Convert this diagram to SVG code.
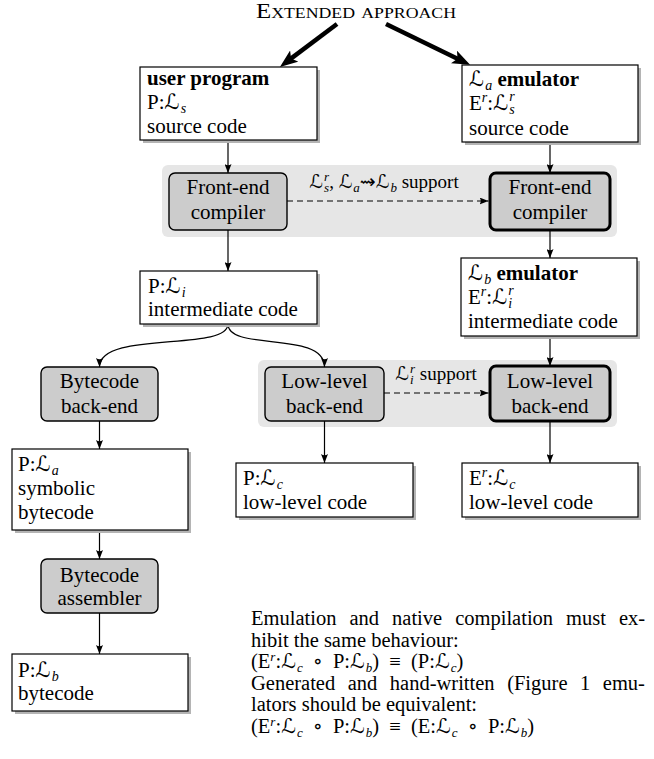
<svg xmlns="http://www.w3.org/2000/svg" width="654" height="759" viewBox="0 0 654 759">
<style>
.box{fill:#fff;stroke:#000;stroke-width:1.2}
.sh{fill:#b4b4b4}
.proc{fill:#cccccc;stroke:#000;stroke-width:1.4}
.thick{stroke-width:3}
.bg{fill:#e6e6e6}
.t{font-family:"Liberation Serif","DejaVu Serif",serif;font-size:21px;fill:#000}
.p{font-size:20.5px}
.lab{font-size:19px}
.c{text-anchor:middle}
.b{font-weight:bold}
.L{font-family:"DejaVu Sans","DejaVu Serif",serif;font-style:normal;font-weight:normal}
.s{font-size:14px;font-style:italic;font-weight:normal}
.ss{font-size:13px;font-style:italic;font-weight:normal}
.conn line,.conn path{fill:none;stroke:#000;stroke-width:1.2}
.conn .d{stroke-dasharray:6 4}
.conn .th{stroke-width:4.5}
</style>
<defs>
<marker id="ah" markerUnits="userSpaceOnUse" markerWidth="9" markerHeight="7" viewBox="0 0 9 7" refX="9" refY="3.5" orient="auto">
<path d="M0,0 L9,3.5 L0,7 Q2.5,3.5 0,0 Z" fill="#000"/>
</marker>
<marker id="tah" markerUnits="userSpaceOnUse" markerWidth="18" markerHeight="14" viewBox="0 0 18 14" refX="8" refY="7" orient="auto">
<path d="M0,0 L18,7 L0,14 L4,7 Z" fill="#000"/>
</marker>
</defs>

<text id="title" class="t" x="356" y="18" text-anchor="middle" font-size="20" font-variant="small-caps" textLength="200" lengthAdjust="spacingAndGlyphs">Extended approach</text>

<rect class="bg" x="162" y="165" width="455" height="72" rx="6"/>
<rect class="bg" x="258" y="360" width="359" height="67" rx="6"/>

<g class="conn">
<line class="th" x1="337" y1="24" x2="287.9" y2="60.9" marker-end="url(#tah)"/>
<line class="th" x1="386" y1="24" x2="461.1" y2="60.5" marker-end="url(#tah)"/>
<line x1="228" y1="140" x2="228" y2="173" marker-end="url(#ah)"/>
<line x1="550" y1="142" x2="550" y2="173" marker-end="url(#ah)"/>
<line x1="228" y1="230" x2="228" y2="271" marker-end="url(#ah)"/>
<line x1="550" y1="230" x2="550" y2="258" marker-end="url(#ah)"/>
<line x1="550" y1="336" x2="550" y2="366" marker-end="url(#ah)"/>
<path d="M228,324 C228,352 99.5,330 99.5,367" marker-end="url(#ah)"/>
<path d="M228,324 C228,352 324.5,330 324.5,367" marker-end="url(#ah)"/>
<line x1="99.5" y1="421" x2="99.5" y2="449" marker-end="url(#ah)"/>
<line x1="99.5" y1="530" x2="99.5" y2="559" marker-end="url(#ah)"/>
<line x1="99.5" y1="613" x2="99.5" y2="654" marker-end="url(#ah)"/>
<line x1="324.5" y1="421" x2="324.5" y2="463" marker-end="url(#ah)"/>
<line x1="550" y1="421" x2="550" y2="463" marker-end="url(#ah)"/>
<line class="d" x1="287" y1="201" x2="488.5" y2="201" marker-end="url(#ah)"/>
<line class="d" x1="384" y1="393" x2="488.5" y2="393" marker-end="url(#ah)"/>
<text class="t lab c" x="384" y="188"><tspan class="L">ℒ</tspan><tspan class="ss" dx="1" dy="4">s</tspan><tspan class="ss" dx="-5" dy="-11">r</tspan><tspan dy="7">, </tspan><tspan class="L">ℒ</tspan><tspan class="ss" dx="1" dy="4">a</tspan><tspan class="L" dy="-4">⇝</tspan><tspan class="L">ℒ</tspan><tspan class="ss" dx="1" dy="4">b</tspan><tspan dy="-4"> support</tspan></text>
<text class="t lab c" x="436" y="380"><tspan class="L">ℒ</tspan><tspan class="ss" dx="1" dy="4">i</tspan><tspan class="ss" dx="-3.6" dy="-11">r</tspan><tspan dy="7"> support</tspan></text>
</g>

<g id="user-program">
<rect class="sh" x="143" y="70" width="177" height="73"/>
<rect class="box" x="140" y="67" width="177" height="73"/>
<text class="t b" x="147" y="85">user program</text>
<text class="t" x="147" y="109">P:<tspan class="L">ℒ</tspan><tspan class="s" dx="1" dy="4">s</tspan></text>
<text class="t" x="147" y="133">source code</text>
</g>

<g id="la-emulator">
<rect class="sh" x="465" y="68" width="176" height="77"/>
<rect class="box" x="462" y="65" width="176" height="77"/>
<text class="t" x="469" y="86"><tspan class="L">ℒ</tspan><tspan class="s" dx="1" dy="4">a</tspan><tspan class="b" dy="-4"> emulator</tspan></text>
<text class="t" x="469" y="110">E<tspan class="s" dy="-8">r</tspan><tspan dy="8">:</tspan><tspan class="L">ℒ</tspan><tspan class="s" dx="1" dy="4">s</tspan><tspan class="s" dx="-5.5" dy="-13">r</tspan></text>
<text class="t" x="469" y="135">source code</text>
</g>

<g id="frontend-left">
<rect class="proc" x="169" y="173" width="118" height="57" rx="6"/>
<text class="t c" x="228" y="194">Front-end</text>
<text class="t c" x="228" y="219">compiler</text>
</g>

<g id="frontend-right">
<rect class="proc thick" x="490" y="173" width="120" height="57" rx="6"/>
<text class="t c" x="550" y="194">Front-end</text>
<text class="t c" x="550" y="219">compiler</text>
</g>

<g id="intermediate">
<rect class="sh" x="143" y="274" width="177" height="53"/>
<rect class="box" x="140" y="271" width="177" height="53"/>
<text class="t" x="148" y="293">P:<tspan class="L">ℒ</tspan><tspan class="s" dx="1" dy="4">i</tspan></text>
<text class="t" x="148" y="316">intermediate code</text>
</g>

<g id="lb-emulator">
<rect class="sh" x="464" y="261" width="176" height="78"/>
<rect class="box" x="461" y="258" width="176" height="78"/>
<text class="t" x="468" y="280"><tspan class="L">ℒ</tspan><tspan class="s" dx="1" dy="4">b</tspan><tspan class="b" dy="-4"> emulator</tspan></text>
<text class="t" x="468" y="304">E<tspan class="s" dy="-8">r</tspan><tspan dy="8">:</tspan><tspan class="L">ℒ</tspan><tspan class="s" dx="1" dy="4">i</tspan><tspan class="s" dx="-3.9" dy="-13">r</tspan></text>
<text class="t" x="468" y="328">intermediate code</text>
</g>

<g id="bytecode-backend">
<rect class="proc" x="41" y="367" width="117" height="54" rx="6"/>
<text class="t c" x="99.5" y="388">Bytecode</text>
<text class="t c" x="99.5" y="413">back-end</text>
</g>

<g id="lowlevel-left">
<rect class="proc" x="265" y="367" width="119" height="54" rx="6"/>
<text class="t c" x="324.5" y="388">Low-level</text>
<text class="t c" x="324.5" y="413">back-end</text>
</g>

<g id="lowlevel-right">
<rect class="proc thick" x="490" y="366" width="120" height="55" rx="6"/>
<text class="t c" x="550" y="388">Low-level</text>
<text class="t c" x="550" y="413">back-end</text>
</g>

<g id="symbolic-bytecode">
<rect class="sh" x="15" y="452" width="176" height="81"/>
<rect class="box" x="12" y="449" width="176" height="81"/>
<text class="t" x="18" y="471">P:<tspan class="L">ℒ</tspan><tspan class="s" dx="1" dy="4">a</tspan></text>
<text class="t" x="18" y="495">symbolic</text>
<text class="t" x="18" y="519">bytecode</text>
</g>

<g id="bytecode-assembler">
<rect class="proc" x="41" y="559" width="117" height="54" rx="6"/>
<text class="t c" x="99.5" y="582">Bytecode</text>
<text class="t c" x="99.5" y="605">assembler</text>
</g>

<g id="bytecode">
<rect class="sh" x="15" y="657" width="176" height="57"/>
<rect class="box" x="12" y="654" width="176" height="57"/>
<text class="t" x="18" y="677">P:<tspan class="L">ℒ</tspan><tspan class="s" dx="1" dy="4">b</tspan></text>
<text class="t" x="18" y="700">bytecode</text>
</g>

<g id="lowlevel-code-p">
<rect class="sh" x="239" y="466" width="177" height="54"/>
<rect class="box" x="236" y="463" width="177" height="54"/>
<text class="t" x="243" y="485">P:<tspan class="L">ℒ</tspan><tspan class="s" dx="1" dy="4">c</tspan></text>
<text class="t" x="243" y="509">low-level code</text>
</g>

<g id="lowlevel-code-e">
<rect class="sh" x="465" y="466" width="176" height="54"/>
<rect class="box" x="462" y="463" width="176" height="54"/>
<text class="t" x="469" y="485">E<tspan class="s" dy="-8">r</tspan><tspan dy="8">:</tspan><tspan class="L">ℒ</tspan><tspan class="s" dx="1" dy="4">c</tspan></text>
<text class="t" x="469" y="509">low-level code</text>
</g>

<g id="note">
<text class="t p" x="251" y="625" word-spacing="7.9">Emulation and native compilation must ex-</text>
<text class="t p" x="251" y="647">hibit the same behaviour:</text>
<text class="t p" x="251" y="668" word-spacing="5">(E<tspan class="ss" dy="-7">r</tspan><tspan dy="7">:</tspan><tspan class="L">ℒ</tspan><tspan class="ss" dx="1" dy="4">c</tspan><tspan dy="-4"> ∘ P:</tspan><tspan class="L">ℒ</tspan><tspan class="ss" dx="1" dy="4">b</tspan><tspan dy="-4">) ≡ (P:</tspan><tspan class="L">ℒ</tspan><tspan class="ss" dx="1" dy="4">c</tspan><tspan dy="-4">)</tspan></text>
<text class="t p" x="251" y="690" word-spacing="7.4">Generated and hand-written (Figure 1 emu-</text>
<text class="t p" x="251" y="711">lators should be equivalent:</text>
<text class="t p" x="251" y="733" word-spacing="5">(E<tspan class="ss" dy="-7">r</tspan><tspan dy="7">:</tspan><tspan class="L">ℒ</tspan><tspan class="ss" dx="1" dy="4">c</tspan><tspan dy="-4"> ∘ P:</tspan><tspan class="L">ℒ</tspan><tspan class="ss" dx="1" dy="4">b</tspan><tspan dy="-4">) ≡ (E:</tspan><tspan class="L">ℒ</tspan><tspan class="ss" dx="1" dy="4">c</tspan><tspan dy="-4"> ∘ P:</tspan><tspan class="L">ℒ</tspan><tspan class="ss" dx="1" dy="4">b</tspan><tspan dy="-4">)</tspan></text>
</g>
</svg>
